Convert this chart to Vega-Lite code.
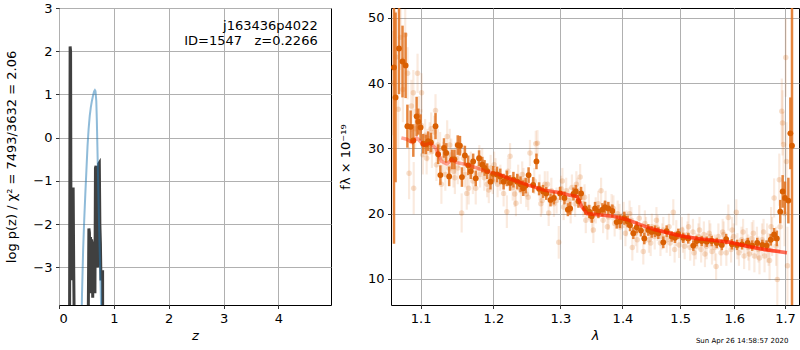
{
"$schema": "https://vega.github.io/schema/vega-lite/v6.json",
"padding": {"left": 5, "top": 1, "right": 0, "bottom": 0},
"spacing": 6,
"config": {
  "font": "DejaVu Sans",
  "view": {"stroke": "black", "strokeWidth": 1},
  "axis": {"grid": true, "gridColor": "#b0b0b0", "gridWidth": 1, "gridOpacity": 1, "domain": false, "tickColor": "black", "tickSize": 3.5, "tickWidth": 0.8, "labelPadding": 3.5, "labelFontSize": 13, "labelColor": "black", "titleFontSize": 13, "titleFontWeight": "normal", "titleColor": "black"}
},
"datasets": {
  "pzk": [
    {"z":0.17,"v":-10},{"z":0.19,"v":-6},{"z":0.203,"v":2.11},{"z":0.211,"v":2.0},{"z":0.22,"v":-3.3},{"z":0.232,"v":-1.2},{"z":0.243,"v":-1.25},{"z":0.25,"v":-3.3},{"z":0.258,"v":-1.15},{"z":0.268,"v":-3.0},{"z":0.29,"v":-6},{"z":0.32,"v":-10},
    {"z":0.52,"v":-10},{"z":0.535,"v":-3.9},{"z":0.545,"v":-2.1},{"z":0.555,"v":-2.2},{"z":0.565,"v":-3.6},{"z":0.575,"v":-2.3},{"z":0.585,"v":-3.5},{"z":0.595,"v":-2.35},{"z":0.605,"v":-2.5},{"z":0.615,"v":-3.7},{"z":0.625,"v":-2.4},{"z":0.635,"v":-3.2},{"z":0.645,"v":-2.7},{"z":0.655,"v":-3.6},{"z":0.665,"v":-0.7},{"z":0.675,"v":-0.65},{"z":0.685,"v":-1.0},{"z":0.695,"v":-2.4},{"z":0.705,"v":-3.0},{"z":0.715,"v":-2.2},{"z":0.725,"v":-0.6},{"z":0.735,"v":-0.58},{"z":0.745,"v":-2.0},{"z":0.755,"v":-2.45},{"z":0.765,"v":-3.3},{"z":0.78,"v":-3.1},{"z":0.795,"v":-3.1},{"z":0.80,"v":-10}
  ],
  "pzb": [
    {"z":0.40,"v":-5},{"z":0.42,"v":-3.6},{"z":0.44,"v":-2.6},{"z":0.46,"v":-1.9},{"z":0.48,"v":-1.3},{"z":0.50,"v":-0.75},{"z":0.52,"v":-0.2},{"z":0.54,"v":0.2},{"z":0.56,"v":0.5},{"z":0.58,"v":0.7},{"z":0.60,"v":0.85},{"z":0.62,"v":0.97},{"z":0.64,"v":1.07},{"z":0.655,"v":1.1},{"z":0.665,"v":1.08},{"z":0.68,"v":0.85},{"z":0.69,"v":0.4},{"z":0.70,"v":-0.2},{"z":0.71,"v":-0.8},{"z":0.72,"v":-1.4},{"z":0.73,"v":-2.0},{"z":0.74,"v":-2.5},{"z":0.75,"v":-3.0},{"z":0.76,"v":-3.5},{"z":0.78,"v":-4.5}
  ],
  "dark": [
    {"l":1.0656,"f":42.4,"e":27},{"l":1.0676,"f":37.8,"e":13},{"l":1.072,"f":45.3,"e":7},{"l":1.0765,"f":43.3,"e":5.5},{"l":1.0805,"f":42.7,"e":5},{"l":1.0828,"f":33.4,"e":3.3},{"l":1.087,"f":33.3,"e":2.5},{"l":1.0905,"f":31.2,"e":2.5},{"l":1.0948,"f":34.9,"e":3},{"l":1.097,"f":34.1,"e":2},{"l":1.1,"f":33.2,"e":2},{"l":1.1035,"f":30.7,"e":1.5},{"l":1.107,"f":30.6,"e":1.5},{"l":1.11,"f":31.1,"e":1.5},{"l":1.1137,"f":30.9,"e":1.5},{"l":1.1198,"f":33.4,"e":2},{"l":1.1233,"f":29.1,"e":1.5},{"l":1.1263,"f":25.9,"e":1.5},{"l":1.1312,"f":30.05,"e":1.5},{"l":1.1342,"f":29.3,"e":1.5},{"l":1.1382,"f":25.7,"e":1.5},{"l":1.1422,"f":28.3,"e":1.5},{"l":1.1454,"f":28.3,"e":1.5},{"l":1.1499,"f":30.5,"e":1.5},{"l":1.153,"f":30.4,"e":1.5},{"l":1.1557,"f":25.6,"e":1.5},{"l":1.1598,"f":28.9,"e":1.5},{"l":1.1644,"f":27.4,"e":1.5},{"l":1.168,"f":26.5,"e":1.2},{"l":1.1713,"f":28.0,"e":1.2},{"l":1.1749,"f":25.4,"e":1.2},{"l":1.1796,"f":28.5,"e":1.2},{"l":1.1842,"f":27.5,"e":1.2},{"l":1.1874,"f":27.0,"e":1.2},{"l":1.1911,"f":26.5,"e":1.2},{"l":1.1958,"f":24.9,"e":1.2},{"l":1.1996,"f":26.1,"e":1.2},{"l":1.2052,"f":26.0,"e":1.2},{"l":1.2099,"f":25.7,"e":1.2},{"l":1.2147,"f":24.9,"e":1.2},{"l":1.2194,"f":25.4,"e":1.2},{"l":1.2241,"f":24.7,"e":1.2},{"l":1.229,"f":25.2,"e":1.2},{"l":1.2347,"f":24.9,"e":1.2},{"l":1.2395,"f":24.5,"e":1.2},{"l":1.2434,"f":23.9,"e":1.2},{"l":1.2472,"f":24.3,"e":1.2},{"l":1.2515,"f":25.9,"e":1.2},{"l":1.2584,"f":24.4,"e":1.2},{"l":1.2633,"f":28.0,"e":1.2},{"l":1.2673,"f":23.8,"e":1.0},{"l":1.2733,"f":23.4,"e":1.0},{"l":1.2782,"f":23.1,"e":1.0},{"l":1.2847,"f":22.1,"e":1.0},{"l":1.2899,"f":22.4,"e":1.0},{"l":1.2995,"f":23.1,"e":1.0},{"l":1.3063,"f":22.4,"e":1.0},{"l":1.3116,"f":20.6,"e":1.0},{"l":1.3152,"f":20.8,"e":1.0},{"l":1.3204,"f":23.0,"e":1.0},{"l":1.3241,"f":23.4,"e":1.0},{"l":1.3283,"f":21.9,"e":1.0},{"l":1.3325,"f":23.1,"e":1.0},{"l":1.3389,"f":20.8,"e":1.0},{"l":1.3453,"f":20.3,"e":1.0},{"l":1.3496,"f":19.6,"e":1.0},{"l":1.3549,"f":20.8,"e":1.0},{"l":1.3603,"f":20.3,"e":1.0},{"l":1.3668,"f":20.6,"e":1.0},{"l":1.3711,"f":21.0,"e":1.0},{"l":1.3766,"f":20.8,"e":1.0},{"l":1.3832,"f":20.4,"e":1.0},{"l":1.3904,"f":18.7,"e":1.0},{"l":1.3959,"f":18.8,"e":1.0},{"l":1.4031,"f":19.3,"e":1.0},{"l":1.4087,"f":18.8,"e":0.9},{"l":1.4127,"f":18.2,"e":0.9},{"l":1.4183,"f":17.0,"e":0.9},{"l":1.424,"f":17.9,"e":0.9},{"l":1.4313,"f":17.4,"e":0.9},{"l":1.437,"f":16.2,"e":0.9},{"l":1.4439,"f":17.5,"e":0.9},{"l":1.4497,"f":17.2,"e":0.9},{"l":1.4555,"f":17.3,"e":0.9},{"l":1.4613,"f":17.0,"e":0.9},{"l":1.47,"f":15.6,"e":0.9},{"l":1.4759,"f":17.3,"e":0.9},{"l":1.4848,"f":16.5,"e":0.8},{"l":1.4906,"f":16.3,"e":0.8},{"l":1.4966,"f":16.9,"e":0.8},{"l":1.5055,"f":16.3,"e":0.8},{"l":1.5145,"f":16.2,"e":0.8},{"l":1.5236,"f":15.1,"e":0.8},{"l":1.5297,"f":15.8,"e":0.8},{"l":1.539,"f":15.8,"e":0.8},{"l":1.5482,"f":15.7,"e":0.8},{"l":1.5575,"f":15.8,"e":0.8},{"l":1.5669,"f":15.5,"e":0.8},{"l":1.5764,"f":15.2,"e":0.8},{"l":1.5846,"f":16.1,"e":0.8},{"l":1.5956,"f":15.3,"e":0.8},{"l":1.6053,"f":15.2,"e":0.8},{"l":1.615,"f":15.3,"e":0.8},{"l":1.626,"f":15.5,"e":0.8},{"l":1.6347,"f":15.1,"e":0.8},{"l":1.6446,"f":15.5,"e":0.8},{"l":1.6546,"f":15.2,"e":0.8},{"l":1.6632,"f":15.1,"e":0.8},{"l":1.6713,"f":16.0,"e":0.9},{"l":1.6781,"f":16.8,"e":1.0},{"l":1.6836,"f":16.2,"e":1.2},{"l":1.6904,"f":20.3,"e":1.8},{"l":1.6953,"f":23.4,"e":2.5},{"l":1.7,"f":22.4,"e":2.5},{"l":1.7069,"f":22.0,"e":3.5},{"l":1.711,"f":32.3,"e":5.5},{"l":1.7143,"f":30.4,"e":25}
  ],
  "faint": [
    {"l":1.064,"f":40.0,"e":8},{"l":1.068,"f":44.0,"e":7},{"l":1.071,"f":36.0,"e":6},{"l":1.074,"f":47.0,"e":5},{"l":1.077,"f":39.0,"e":5},{"l":1.080,"f":47.4,"e":4},{"l":1.083,"f":41.5,"e":4},{"l":1.085,"f":26.2,"e":4},{"l":1.088,"f":36.5,"e":4},{"l":1.0905,"f":38.5,"e":3.5},{"l":1.091,"f":23.9,"e":4},{"l":1.093,"f":33.0,"e":3},{"l":1.096,"f":41.5,"e":3},{"l":1.098,"f":35.0,"e":3},{"l":1.1013,"f":38.5,"e":3},{"l":1.103,"f":29.0,"e":3},{"l":1.106,"f":32.0,"e":2.5},{"l":1.109,"f":30.5,"e":2.5},{"l":1.112,"f":31.5,"e":2.5},{"l":1.115,"f":29.5,"e":2.5},{"l":1.118,"f":32.5,"e":2.5},{"l":1.1198,"f":35.8,"e":2.5},{"l":1.123,"f":30.5,"e":2.5},{"l":1.1277,"f":24.5,"e":3},{"l":1.130,"f":28.5,"e":2.5},{"l":1.1355,"f":31.8,"e":2.5},{"l":1.138,"f":27.0,"e":2.5},{"l":1.141,"f":29.0,"e":2.5},{"l":1.144,"f":26.5,"e":2.5},{"l":1.147,"f":28.5,"e":2.5},{"l":1.150,"f":27.0,"e":2.5},{"l":1.1553,"f":20.1,"e":3},{"l":1.158,"f":28.5,"e":2},{"l":1.1624,"f":23.1,"e":2.5},{"l":1.165,"f":23.9,"e":2.5},{"l":1.168,"f":27.5,"e":2},{"l":1.1749,"f":23.9,"e":2.5},{"l":1.178,"f":27.0,"e":2},{"l":1.181,"f":26.0,"e":2},{"l":1.184,"f":28.0,"e":2},{"l":1.187,"f":25.5,"e":2},{"l":1.1934,"f":23.6,"e":2},{"l":1.196,"f":27.0,"e":2},{"l":1.199,"f":25.0,"e":2},{"l":1.203,"f":26.5,"e":2},{"l":1.206,"f":24.5,"e":2},{"l":1.2147,"f":23.1,"e":2},{"l":1.2194,"f":20.3,"e":2.5},{"l":1.2241,"f":28.8,"e":2},{"l":1.228,"f":24.0,"e":2},{"l":1.2327,"f":21.6,"e":2},{"l":1.236,"f":25.5,"e":2},{"l":1.240,"f":23.5,"e":2},{"l":1.244,"f":25.0,"e":2},{"l":1.248,"f":23.0,"e":2},{"l":1.2535,"f":29.3,"e":2},{"l":1.2623,"f":30.7,"e":2},{"l":1.2648,"f":30.8,"e":2},{"l":1.268,"f":24.0,"e":2},{"l":1.272,"f":22.0,"e":2},{"l":1.276,"f":24.5,"e":2},{"l":1.2819,"f":20.1,"e":2},{"l":1.286,"f":23.5,"e":2},{"l":1.290,"f":21.5,"e":2},{"l":1.2974,"f":15.6,"e":2.5},{"l":1.301,"f":23.8,"e":2},{"l":1.305,"f":21.0,"e":2},{"l":1.309,"f":23.5,"e":2},{"l":1.313,"f":22.0,"e":2},{"l":1.318,"f":24.0,"e":2},{"l":1.323,"f":21.5,"e":2},{"l":1.327,"f":23.5,"e":2},{"l":1.331,"f":25.6,"e":2},{"l":1.336,"f":21.5,"e":2},{"l":1.340,"f":19.0,"e":2},{"l":1.345,"f":21.0,"e":2},{"l":1.3522,"f":17.5,"e":2},{"l":1.356,"f":20.5,"e":2},{"l":1.3647,"f":23.5,"e":2},{"l":1.368,"f":19.0,"e":2},{"l":1.372,"f":21.5,"e":2},{"l":1.377,"f":19.5,"e":2},{"l":1.382,"f":21.0,"e":2},{"l":1.387,"f":18.5,"e":2},{"l":1.392,"f":20.0,"e":2},{"l":1.397,"f":18.0,"e":2},{"l":1.402,"f":19.8,"e":2},{"l":1.407,"f":18.5,"e":2},{"l":1.412,"f":20.0,"e":2},{"l":1.4166,"f":14.8,"e":2},{"l":1.422,"f":17.0,"e":2},{"l":1.4284,"f":19.3,"e":2},{"l":1.4353,"f":14.2,"e":2},{"l":1.440,"f":17.5,"e":2},{"l":1.445,"f":16.0,"e":2},{"l":1.450,"f":18.0,"e":2},{"l":1.455,"f":16.5,"e":2},{"l":1.460,"f":17.8,"e":2},{"l":1.465,"f":15.5,"e":2},{"l":1.470,"f":17.5,"e":2},{"l":1.476,"f":16.0,"e":2},{"l":1.482,"f":15.5,"e":2},{"l":1.4877,"f":20.2,"e":2},{"l":1.493,"f":17.0,"e":2},{"l":1.498,"f":15.2,"e":2},{"l":1.503,"f":17.5,"e":2},{"l":1.508,"f":15.0,"e":2},{"l":1.513,"f":16.8,"e":2},{"l":1.518,"f":14.8,"e":2},{"l":1.523,"f":17.2,"e":2},{"l":1.528,"f":15.0,"e":2},{"l":1.533,"f":16.5,"e":2},{"l":1.538,"f":14.5,"e":2},{"l":1.543,"f":16.8,"e":2},{"l":1.548,"f":15.0,"e":2},{"l":1.553,"f":17.0,"e":2},{"l":1.558,"f":14.2,"e":2},{"l":1.5657,"f":11.9,"e":2},{"l":1.570,"f":16.5,"e":2},{"l":1.575,"f":14.0,"e":2},{"l":1.580,"f":16.8,"e":2},{"l":1.5888,"f":19.4,"e":2},{"l":1.594,"f":14.5,"e":2},{"l":1.599,"f":16.5,"e":2},{"l":1.604,"f":20.2,"e":2},{"l":1.609,"f":14.0,"e":2},{"l":1.614,"f":16.0,"e":2},{"l":1.619,"f":13.5,"e":2},{"l":1.624,"f":15.8,"e":2},{"l":1.629,"f":13.8,"e":2.5},{"l":1.634,"f":16.2,"e":2.5},{"l":1.639,"f":13.5,"e":2.5},{"l":1.644,"f":15.5,"e":2.5},{"l":1.649,"f":13.2,"e":2.5},{"l":1.654,"f":16.0,"e":2.5},{"l":1.659,"f":13.5,"e":2.5},{"l":1.664,"f":15.5,"e":3},{"l":1.669,"f":12.8,"e":3},{"l":1.674,"f":16.5,"e":3},{"l":1.6781,"f":22.4,"e":3},{"l":1.6845,"f":9.9,"e":4},{"l":1.6885,"f":25.2,"e":4},{"l":1.690,"f":18.0,"e":4},{"l":1.6935,"f":35.7,"e":5},{"l":1.695,"f":33.9,"e":5},{"l":1.697,"f":30.6,"e":5},{"l":1.699,"f":20.0,"e":5},{"l":1.7016,"f":43.9,"e":6},{"l":1.703,"f":28.0,"e":6},{"l":1.705,"f":12.0,"e":6},
    {"l":1.101,"f":33.5,"e":2.5},{"l":1.108,"f":28.5,"e":2.5},{"l":1.114,"f":33.0,"e":2.5},{"l":1.121,"f":27.5,"e":2.5},{"l":1.126,"f":30.0,"e":2.5},{"l":1.133,"f":26.0,"e":2.5},{"l":1.139,"f":30.5,"e":2.5},{"l":1.146,"f":25.5,"e":2.5},{"l":1.152,"f":29.5,"e":2.5},{"l":1.160,"f":26.0,"e":2},{"l":1.171,"f":25.0,"e":2},{"l":1.180,"f":28.5,"e":2},{"l":1.191,"f":24.5,"e":2},{"l":1.201,"f":27.5,"e":2},{"l":1.210,"f":25.5,"e":2},{"l":1.221,"f":26.5,"e":2},{"l":1.231,"f":23.0,"e":2},{"l":1.242,"f":26.0,"e":2},{"l":1.251,"f":22.5,"e":2},{"l":1.260,"f":25.0,"e":2},{"l":1.270,"f":21.5,"e":2},{"l":1.280,"f":24.5,"e":2},{"l":1.294,"f":22.0,"e":2},{"l":1.303,"f":25.0,"e":2},{"l":1.316,"f":20.5,"e":2},{"l":1.325,"f":24.5,"e":2},{"l":1.338,"f":22.5,"e":2},{"l":1.350,"f":19.0,"e":2},{"l":1.360,"f":21.5,"e":2},{"l":1.375,"f":18.0,"e":2},{"l":1.385,"f":20.8,"e":2},{"l":1.395,"f":19.5,"e":2},{"l":1.405,"f":17.0,"e":2},{"l":1.415,"f":19.0,"e":2},{"l":1.425,"f":16.0,"e":2},{"l":1.438,"f":18.5,"e":2},{"l":1.448,"f":15.5,"e":2},{"l":1.458,"f":19.0,"e":2},{"l":1.468,"f":16.5,"e":2},{"l":1.480,"f":18.0,"e":2},{"l":1.490,"f":14.5,"e":2},{"l":1.505,"f":16.0,"e":2},{"l":1.515,"f":18.0,"e":2},{"l":1.525,"f":14.0,"e":2},{"l":1.535,"f":17.5,"e":2},{"l":1.545,"f":13.8,"e":2},{"l":1.555,"f":16.5,"e":2},{"l":1.563,"f":14.8,"e":2},{"l":1.578,"f":17.2,"e":2},{"l":1.585,"f":14.0,"e":2},{"l":1.596,"f":17.5,"e":2},{"l":1.606,"f":15.0,"e":2},{"l":1.617,"f":17.2,"e":2},{"l":1.627,"f":14.8,"e":2},{"l":1.637,"f":17.0,"e":2},{"l":1.647,"f":14.5,"e":2},{"l":1.657,"f":17.2,"e":2},{"l":1.667,"f":14.5,"e":2.5},{"l":1.672,"f":18.0,"e":3},{"l":1.682,"f":15.0,"e":3}
  ],
  "model": [
    {"s":"a","l":1.075,"f":31.6},{"s":"a","l":1.082,"f":31.4},{"s":"a","l":1.089,"f":30.9},{"s":"a","l":1.095,"f":31.6},{"s":"a","l":1.104,"f":30.5},{"s":"a","l":1.113,"f":30.8},{"s":"a","l":1.12,"f":30.0},{"s":"a","l":1.128,"f":28.0},{"s":"a","l":1.135,"f":27.6},{"s":"a","l":1.142,"f":28.3},{"s":"a","l":1.149,"f":27.8},{"s":"a","l":1.163,"f":27.5},{"s":"a","l":1.176,"f":27.0},{"s":"a","l":1.189,"f":26.5},{"s":"a","l":1.208,"f":26.0},{"s":"a","l":1.227,"f":25.2},{"s":"a","l":1.25,"f":24.4},{"s":"a","l":1.275,"f":23.6},{"s":"a","l":1.30,"f":23.2},{"s":"a","l":1.315,"f":22.8},{"s":"a","l":1.326,"f":22.6},{"s":"a","l":1.334,"f":21.0},{"s":"a","l":1.342,"f":20.0},{"s":"a","l":1.363,"f":19.8},{"s":"a","l":1.385,"f":19.6},{"s":"a","l":1.407,"f":19.1},{"s":"a","l":1.43,"f":18.3},{"s":"a","l":1.453,"f":17.6},{"s":"a","l":1.476,"f":17.1},{"s":"a","l":1.50,"f":16.6},{"s":"a","l":1.53,"f":16.2},{"s":"a","l":1.561,"f":15.9},{"s":"a","l":1.592,"f":15.6},{"s":"a","l":1.625,"f":15.0},{"s":"a","l":1.658,"f":14.5},{"s":"a","l":1.704,"f":14.0},
    {"s":"b","l":1.208,"f":26.0},{"s":"b","l":1.227,"f":25.2},{"s":"b","l":1.25,"f":24.4},{"s":"b","l":1.275,"f":23.6},{"s":"b","l":1.30,"f":23.2},{"s":"b","l":1.315,"f":22.8},{"s":"b","l":1.326,"f":22.6},{"s":"b","l":1.334,"f":21.0},{"s":"b","l":1.342,"f":20.0},{"s":"b","l":1.363,"f":19.8},{"s":"b","l":1.385,"f":19.6},{"s":"b","l":1.407,"f":19.1},{"s":"b","l":1.43,"f":18.3},{"s":"b","l":1.453,"f":17.6},{"s":"b","l":1.476,"f":17.1},{"s":"b","l":1.50,"f":16.6},{"s":"b","l":1.53,"f":16.2},{"s":"b","l":1.561,"f":15.9},{"s":"b","l":1.592,"f":15.6},{"s":"b","l":1.625,"f":15.0},{"s":"b","l":1.658,"f":14.5},{"s":"b","l":1.704,"f":14.0},
    {"s":"c","l":1.453,"f":17.6},{"s":"c","l":1.476,"f":17.1},{"s":"c","l":1.50,"f":16.6},{"s":"c","l":1.53,"f":16.2},{"s":"c","l":1.561,"f":15.9},{"s":"c","l":1.592,"f":15.6},{"s":"c","l":1.625,"f":15.0},{"s":"c","l":1.658,"f":14.5},{"s":"c","l":1.690,"f":14.2}
  ]
},
"hconcat": [
  {
    "width": 272, "height": 297,
    "layer": [
      {"data": {"name": "pzk"}, "mark": {"type": "line", "color": "#404040", "strokeWidth": 3, "clip": true},
       "encoding": {
         "x": {"field": "z", "type": "quantitative", "scale": {"domain": [0, 4.96], "nice": false, "zero": false}, "axis": {"values": [0,1,2,3,4], "title": "z", "titleFontStyle": "italic", "titlePadding": 4}},
         "y": {"field": "v", "type": "quantitative", "scale": {"domain": [-3.87, 3], "nice": false, "zero": false}, "axis": {"values": [-3,-2,-1,0,1,2,3], "title": "log p(z) / χ² = 7493/3632 = 2.06", "titlePadding": 14}}
       }},
      {"data": {"name": "pzb"}, "mark": {"type": "line", "color": "#1f77b4", "opacity": 0.5, "strokeWidth": 2, "clip": true},
       "encoding": {"x": {"field": "z", "type": "quantitative", "title": "z"}, "y": {"field": "v", "type": "quantitative", "title": "log p(z) / χ² = 7493/3632 = 2.06"}}},
      {"data": {"values": [{}]}, "mark": {"type": "text", "align": "right", "baseline": "top", "fontSize": 13, "lineHeight": 15, "color": "black"},
       "encoding": {"x": {"datum": 4.717}, "y": {"datum": 2.72}, "text": {"value": ["j163436p4022", "ID=1547\u00a0\u00a0\u00a0z=0.2266"]}}}
    ]
  },
  {
    "width": 408, "height": 297,
    "layer": [
      {"data": {"name": "faint"}, "mark": {"type": "errorbar", "ticks": false, "color": "#d95f02", "opacity": 0.13, "thickness": 2.2, "clip": true},
       "encoding": {
         "x": {"field": "l", "type": "quantitative", "title": "λ", "scale": {"type": "log", "domain": [1.0618, 1.7287], "nice": false, "zero": false}, "axis": {"values": [1.1,1.2,1.3,1.4,1.5,1.6,1.7], "format": ".1f", "titleFontStyle": "italic", "titlePadding": 4}},
         "y": {"field": "f", "type": "quantitative", "title": "fλ × 10⁻¹⁹", "scale": {"domain": [6.0, 51.5], "nice": false, "zero": false}, "axis": {"values": [10,20,30,40,50], "titlePadding": 15}},
         "yError": {"field": "e"}
       }},
      {"data": {"name": "faint"}, "mark": {"type": "point", "filled": true, "shape": "circle", "size": 30, "color": "#d95f02", "opacity": 0.2, "clip": true},
       "encoding": {"x": {"field": "l", "type": "quantitative", "title": "λ"}, "y": {"field": "f", "type": "quantitative", "title": "fλ × 10⁻¹⁹"}}},
      {"data": {"name": "dark"}, "mark": {"type": "errorbar", "ticks": false, "color": "#e0701c", "opacity": 0.85, "thickness": 2.5, "clip": true},
       "encoding": {"x": {"field": "l", "type": "quantitative", "title": "λ"}, "y": {"field": "f", "type": "quantitative", "title": "fλ × 10⁻¹⁹"}, "yError": {"field": "e"}}},
      {"data": {"name": "dark"}, "mark": {"type": "point", "filled": true, "shape": "circle", "size": 34, "color": "#d95f02", "opacity": 1, "clip": true},
       "encoding": {"x": {"field": "l", "type": "quantitative", "title": "λ"}, "y": {"field": "f", "type": "quantitative", "title": "fλ × 10⁻¹⁹"}}},
      {"data": {"name": "model"}, "mark": {"type": "line", "color": "#ff2000", "opacity": 0.4, "strokeWidth": 3.5, "clip": true},
       "encoding": {"x": {"field": "l", "type": "quantitative", "title": "λ"}, "y": {"field": "f", "type": "quantitative", "title": "fλ × 10⁻¹⁹"}, "detail": {"field": "s"}}},
      {"data": {"values": [{}]}, "mark": {"type": "text", "align": "right", "baseline": "middle", "fontSize": 7, "color": "black"},
       "encoding": {"x": {"datum": 1.7069}, "y": {"datum": 0.55}, "text": {"value": "Sun Apr 26 14:58:57 2020"}}}
    ]
  }
]
}
